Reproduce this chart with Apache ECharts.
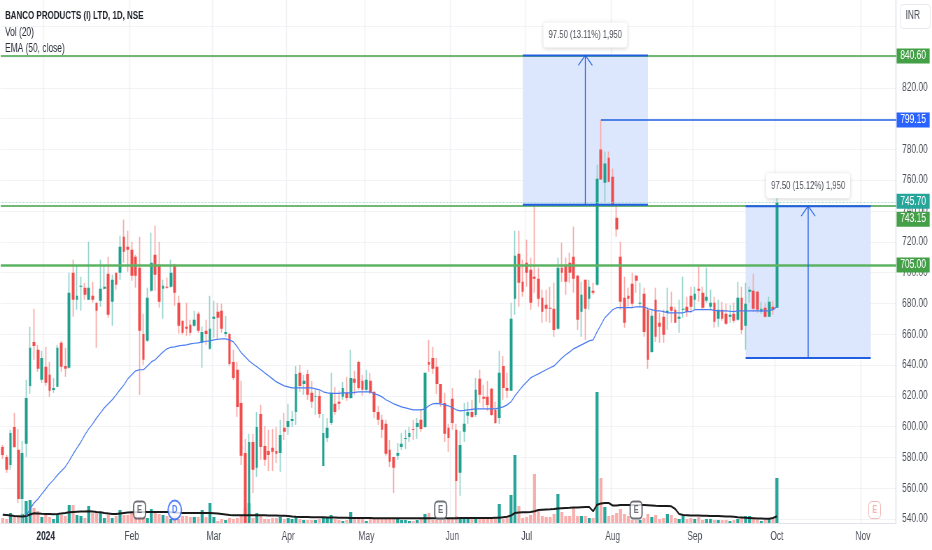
<!DOCTYPE html>
<html><head><meta charset="utf-8">
<style>html,body{margin:0;padding:0;background:#fff;overflow:hidden}#w{width:932px;height:550px;overflow:hidden}#c{width:1332px;height:550px;transform:scaleX(0.6997);transform-origin:0 0}</style>
<script src="https://cdn.jsdelivr.net/npm/echarts@6/dist/echarts.min.js"></script>
</head><body><div id="w"><div id="c"></div></div>
<script>
const opens=[586.8,580.3,575.1,599.8,584.9,553.0,588.8,626.4,655.0,649.9,
630.4,638.8,633.6,623.8,625.8,654.4,639.4,638.2,699.9,682.4,
690.8,690.2,682.4,684.9,680.4,681.7,689.5,699.2,681.0,699.9,
699.9,723.3,716.8,714.9,710.3,703.2,660.2,655.7,688.2,711.6,
705.1,689.5,690.8,690.8,705.1,680.4,668.7,664.8,666.1,665.5,
673.3,654.4,662.2,650.5,670.0,674.6,675.2,660.2,660.2,642.0,
636.9,615.4,582.9,537.4,590.0,573.2,608.2,587.4,584.2,586.2,
584.2,582.9,599.2,599.8,603.7,609.5,634.9,627.7,634.2,621.9,
619.3,619.9,574.4,592.6,602.4,614.8,616.1,619.3,621.9,618.6,
631.0,642.0,629.7,623.9,629.7,622.6,609.5,604.4,601.8,584.9,
580.3,581.0,586.8,592.0,593.3,598.5,599.8,604.4,599.8,642.0,
644.6,638.8,627.7,615.4,599.2,618.0,597.9,570.0,596.6,607.0,
609.5,607.6,631.0,619.3,619.3,624.5,610.9,605.6,639.4,625.1,
623.2,683.0,712.3,694.0,706.4,701.9,697.3,696.0,683.7,679.1,
677.2,676.5,663.5,703.2,705.1,706.4,710.3,698.0,674.6,695.4,
683.0,688.2,692.1,779.9,758.4,774.6,762.3,735.6,710.3,683.7,
684.9,692.8,698.0,679.8,686.3,675.9,648.5,682.4,667.4,671.3,
673.9,677.8,675.9,670.0,675.9,677.8,684.9,682.4,689.5,686.9,
681.7,677.8,680.4,670.0,675.9,673.3,671.3,673.3,669.4,683.7,
665.5,687.6,688.2,687.6,674.6,677.2,671.3,677.8,677.2];
const closes=[581.6,571.9,595.9,586.8,553.0,582.9,618.6,651.2,652.4,637.5,
644.6,628.4,623.2,625.1,651.2,638.8,637.5,686.9,682.4,684.9,
691.4,685.6,690.2,682.4,675.2,689.5,690.8,672.6,695.4,692.1,
716.8,713.5,714.9,697.9,697.9,662.2,643.4,683.7,706.4,698.6,
681.0,691.4,690.2,699.9,686.9,665.5,660.9,663.5,660.9,669.4,
662.2,661.5,660.2,663.5,671.3,670.7,663.5,661.5,640.7,631.6,
612.8,581.0,537.4,590.0,571.9,599.8,586.8,578.4,581.6,583.6,
582.3,594.6,596.6,603.7,605.0,634.2,626.4,629.7,620.6,616.1,
619.9,608.2,595.9,599.2,621.9,609.5,614.8,625.1,618.6,631.6,
628.4,625.1,623.9,630.4,621.9,609.5,604.4,597.9,582.3,577.1,
573.2,582.9,588.8,592.6,595.9,597.9,602.4,598.5,634.9,640.1,
637.5,627.7,615.4,595.3,592.6,602.4,564.7,588.1,601.8,609.5,
606.3,623.9,620.6,618.0,614.1,607.6,602.4,634.9,625.1,623.2,
670.0,711.0,693.4,687.6,699.9,680.4,696.0,683.0,674.6,676.5,
676.5,662.8,703.2,699.9,694.0,699.9,696.0,669.4,685.6,676.5,
690.8,686.9,761.0,760.4,770.8,759.0,744.1,727.9,681.0,667.4,
683.0,679.8,694.7,680.4,661.5,643.4,672.0,658.3,664.8,659.6,
675.2,675.2,667.4,671.3,676.5,674.6,677.8,686.3,688.2,677.2,
684.3,680.4,668.1,675.9,670.0,666.8,672.6,668.7,683.7,662.8,
679.8,688.9,676.5,675.9,676.5,671.3,681.0,675.9,745.7];
const lows=[579.0,569.9,571.9,586.2,550.4,537.4,580.3,621.2,643.4,635.6,
628.4,626.4,619.3,621.9,625.8,635.6,632.3,637.5,671.3,675.9,
675.2,682.4,682.4,680.4,651.2,677.8,688.9,670.7,665.5,688.9,
695.4,706.4,700.5,694.7,690.2,620.6,640.1,655.0,687.6,688.2,
677.2,670.0,689.5,690.2,678.5,660.3,659.6,659.0,659.0,664.8,
660.9,638.2,653.1,649.9,657.6,656.3,660.9,658.3,639.4,630.3,
606.3,575.1,537.4,537.4,556.9,567.3,578.4,574.5,571.2,571.2,
576.4,570.6,591.3,594.6,599.8,601.1,622.6,620.6,617.4,612.2,
607.6,605.6,574.4,590.0,601.1,607.6,610.9,617.4,616.7,618.0,
620.6,623.9,620.0,622.6,621.2,605.6,601.1,592.6,581.0,573.8,
556.9,578.4,584.9,585.5,590.0,591.3,592.0,596.6,599.2,635.6,
634.2,621.2,612.8,590.0,583.6,597.9,537.4,555.0,590.0,601.8,
605.6,606.3,615.4,612.2,610.2,607.0,601.8,601.8,617.4,618.6,
623.2,672.6,677.8,684.3,690.8,675.9,686.9,677.8,667.4,668.1,
667.4,658.3,662.8,694.0,685.6,693.4,686.9,662.8,658.3,656.3,
675.9,685.6,691.4,760.4,746.0,758.4,742.8,723.3,675.9,664.2,
677.8,677.8,686.9,677.8,658.3,637.5,647.9,655.0,654.4,654.4,
662.8,667.4,667.4,660.9,670.7,671.3,673.9,675.9,681.0,675.9,
680.4,675.9,664.2,664.8,668.7,666.1,667.4,667.4,668.7,660.2,
649.9,680.4,674.6,673.9,673.3,670.7,671.3,672.6,677.2];
const highs=[588.1,581.6,597.9,608.9,598.5,590.7,630.4,664.8,676.5,653.1,
649.2,651.8,642.0,631.6,653.1,655.7,651.2,699.9,708.4,704.4,
697.3,693.4,720.0,694.0,680.4,708.4,705.1,710.3,698.6,699.9,
724.0,734.4,727.2,720.0,711.6,723.3,673.3,690.2,725.9,730.5,
720.0,695.4,696.7,708.4,705.7,684.9,668.7,680.4,669.4,675.2,
674.6,664.8,669.4,684.9,681.7,680.4,679.8,671.9,660.9,649.9,
642.0,629.7,592.0,595.3,595.3,609.5,614.1,600.4,597.9,598.5,
599.8,604.4,608.9,614.8,610.2,639.4,640.1,633.6,636.9,629.7,
623.9,623.2,608.2,605.6,634.9,625.8,623.2,629.0,632.3,649.9,
636.2,642.7,633.6,636.9,634.9,622.6,613.5,607.6,604.4,591.4,
580.3,589.4,595.9,597.9,599.8,604.4,605.6,611.5,634.9,656.3,
651.8,644.6,627.7,621.9,601.8,625.1,601.8,597.2,615.4,616.1,
617.4,631.6,636.9,627.1,629.7,625.1,616.1,649.2,645.9,634.9,
680.4,727.2,727.2,708.4,721.4,709.7,744.1,703.2,688.9,688.9,
690.8,693.4,709.7,719.4,709.7,712.9,729.8,698.6,694.0,695.4,
695.4,693.4,770.1,799.15,778.6,778.6,767.5,744.1,720.0,697.3,
690.2,699.9,698.6,693.4,690.2,677.8,675.9,690.2,673.9,675.9,
690.2,687.6,677.8,682.4,697.3,684.3,690.8,690.8,703.8,690.8,
703.2,688.9,684.3,682.4,681.0,679.8,679.1,680.4,694.0,690.8,
693.4,690.8,699.2,688.2,681.0,680.4,684.3,681.7,753.9];
const volumes=[5,4,10,6,6,9,22,23,15,12,
6,8,6,4,8,8,7,18,18,8,
7,5,17,10,10,11,5,8,5,7,
13,8,8,11,9,7,7,5,14,10,
9,8,7,4,7,4,7,7,6,6,
6,13,6,20,6,2,4,3,5,4,
5,7,15,20,5,10,7,4,4,5,
5,6,4,5,4,7,4,3,3,3,
3,4,6,6,8,4,3,2,3,11,
4,4,4,2,4,4,4,4,4,5,
5,4,3,3,2,2,3,5,9,10,
3,3,3,3,4,5,7,4,4,4,
4,4,4,4,4,4,5,19,4,5,
28,68,17,5,6,8,49,12,7,6,
6,9,29,11,7,7,15,7,7,7,
5,5,131,45,16,7,8,10,14,9,
7,3,3,3,5,9,6,8,4,5,
9,8,5,4,7,4,5,4,6,3,
4,4,3,3,3,3,2,3,4,5,
7,7,4,3,2,3,4,4,45];
const volumeAverage=[8.3,8,7.5,7,6.8,6.5,7,8.5,9.8,9.6,
9.2,9,9,8.8,9,9.5,10,10.7,11,11.2,
11.4,11.6,11.7,11.5,11,10.7,10,9.5,9,9,
9.5,10,10.5,10.7,10.8,11,11,11,11,11,
11,11,11,10.8,10.5,10.2,10,10,10,10,
10,10,10,10,9.8,9.5,9,8.5,8,7.7,
7.7,7.7,7.7,7.7,7.7,7.7,7.7,7.7,7.5,7.5,
7.5,7.3,7.3,7,6.5,6.2,6,6,6,5.8,
5.8,5.8,5.7,5.5,5.5,5.4,5.3,5.2,5.2,5,
5,5,5,4.9,4.9,4.8,4.8,4.8,4.8,4.7,
4.7,4.7,4.7,4.7,4.7,4.7,4.7,4.7,4.7,4.7,
4.7,4.7,4.7,4.8,4.8,4.8,4.8,4.9,4.9,4.9,
5,5,5,5,5,5,5.2,5.3,5.8,6.2,
7.5,10,10.5,10.7,10.7,11,11.8,13,13.3,13.5,
13.7,14,14.5,14.8,15,15.2,15.5,15.6,15.8,16,
16,11.7,18.3,19.5,20,20,17.5,17.5,18,18,
18,18,18,18,18,17.8,17.5,17.2,17,17,
17,16.7,14,9,8,7.8,7.6,7.5,7.4,7.3,
7.2,7.1,7,6.9,6.8,6.6,6.4,6.2,5.8,5.5,
5.2,5,4.8,4.5,4.4,4.3,4.3,5,6.7];
const ema50=[null,null,null,null,null,null,541.9,546.5,550.4,553.0,
556.3,559.5,562.8,565.4,568.6,571.2,573.8,577.7,582.2,586.2,
590.0,594.6,598.5,601.8,605.6,608.9,612.2,614.8,617.4,620.6,
623.9,627.1,631.0,633.6,636.2,636.9,636.9,639.4,642.0,643.4,
646.0,648.5,650.5,651.5,651.8,652.4,652.8,653.1,653.7,654.1,
654.4,655.0,655.4,655.7,656.3,656.7,657.0,657.0,656.3,655.0,
651.8,647.9,645.3,642.7,640.7,638.8,636.9,634.9,633.0,631.0,
629.0,627.7,626.4,625.8,625.1,625.1,625.1,625.1,625.1,625.1,
624.5,623.9,622.6,621.9,621.6,621.6,621.6,621.9,621.9,621.9,
622.2,622.6,622.6,622.6,622.6,621.2,620.6,619.3,617.4,616.1,
614.8,613.8,612.8,612.2,611.5,610.9,610.9,610.9,611.5,613.5,
614.8,615.1,614.8,614.1,613.5,612.2,610.9,610.2,610.5,610.9,
611.2,611.5,611.5,611.5,611.5,611.5,611.5,612.2,612.8,614.1,
616.1,620.0,623.2,626.4,629.0,631.6,633.0,634.2,635.6,636.9,
638.2,639.4,642.0,644.6,646.6,648.5,650.5,651.8,653.1,654.4,
655.7,656.3,661.5,666.1,670.7,673.3,675.9,677.2,677.2,677.2,
677.2,677.2,677.8,677.8,677.8,676.5,675.9,675.2,675.2,674.6,
673.9,673.9,673.9,673.9,673.9,674.6,674.6,675.9,675.9,675.9,
675.9,675.9,675.5,675.2,675.2,675.2,674.9,674.6,675.2,675.2,
675.2,675.2,675.2,675.2,675.2,675.2,675.2,675.9,677.8];

const barSlots=229;
const monthIndex=[11,33,54,73,93,115,134,156,177,198,220];
const monthLabels=['2024','Feb','Mar','Apr','May','Jun','Jul','Aug','Sep','Oct','Nov'];
const priceLabels=[540,560,580,600,620,640,660,680,700,720,740,760,780,800,820,840];
const priceGrid=[540,560,580,600,620,640,660,680,700,720,740,760,780,800,820,840,860];
const priceMin=537.4, priceMax=877;

const levelPrices=[840.60,743.15,705.00];
const lastPrice=745.70;
const highPrice=799.15, highFrom=153;
const measureStart=[133,190], measureEnd=[165,222], measureMid=[149,206];
const measureHigh=[841.0,743.15], measureLow=[744.1,644.5];
const measureText=['97.50 (13.11%) 1,950','97.50 (15.12%) 1,950'];
const eventIndex=[35,44,112,162,223];
const eventLabels=['E','D','E','E','E'];
const eventPrice=[545.8,545.8,545.8,545.8,545.8];

const S=932/1332, X=v=>v/S;
const UP='#1fa08e', DOWN='#f24b4b', UPW='#93d3ca', DOWNW='#f9a9a6', UPV='#26a69a', DOWNV='#f9aeac';
const GREEN='#43a047', BLUE='#1f5fe0', TXT='#4a4e57';
const FONT='"Liberation Sans",Arial,sans-serif';

const categories=[];
for(let i=0;i<barSlots;i++){const m=monthIndex.indexOf(i);categories.push(m>=0?monthLabels[m]:'d'+i);}
const ohlc=opens.map((o,i)=>[o,closes[i],lows[i],highs[i]]);
const isUp=i=>closes[i]>=opens[i];
const measureRows=measureStart.map((s,i)=>[s,measureEnd[i],measureMid[i],measureHigh[i],measureLow[i],i]);

function tag(color,text,offsetY){return {show:true,position:'end',distance:0,formatter:text,
 color:'#fff',fontFamily:FONT,fontSize:12,backgroundColor:color,width:X(33),height:15,lineHeight:15,align:'center',
 verticalAlign:'middle',offset:[X(17),offsetY||0]};}

const chart=echarts.init(document.getElementById('c'),null,{renderer:'canvas',width:1332,height:550});
chart.setOption({
 animation:false,
 backgroundColor:'#fff',
 title:[
  {text:'BANCO PRODUCTS (I) LTD, 1D, NSE',left:X(5),top:10,padding:0,textStyle:{fontFamily:FONT,fontSize:11.4,fontWeight:'bold',color:'#1c1f26'}},
  {text:'Vol (20)',left:X(5),top:27,padding:0,textStyle:{fontFamily:FONT,fontSize:12,fontWeight:'normal',color:'#2a2e39'}},
  {text:'EMA (50, close)',left:X(5),top:43,padding:0,textStyle:{fontFamily:FONT,fontSize:12,fontWeight:'normal',color:'#2a2e39'}},
 ],
 graphic:[
  {type:'rect',left:X(900),top:4,z:100,shape:{width:X(30),height:24,r:4},style:{fill:'#fff',stroke:'#e6e8ee',lineWidth:1}},
  {type:'text',left:X(905.5),top:10,z:101,style:{text:'INR',fontFamily:FONT,fontSize:12,fill:'#4a4e57'}},
 ],
 grid:{left:X(0.75),width:X(895.39),top:0,height:523,containLabel:false,outerBoundsMode:'none'},
 xAxis:{type:'category',data:categories,boundaryGap:true,
  axisLine:{show:true,lineStyle:{color:'#e0e3eb',width:1}},axisTick:{show:false},
  axisLabel:{interval:i=>monthIndex.includes(i),margin:8,fontFamily:FONT,fontSize:12,color:TXT,hideOverlap:false,
   formatter:v=>v==='2024'?'{b|2024}':v,rich:{b:{fontWeight:'bold',color:'#2a2e39',fontFamily:FONT,fontSize:12}}},
  splitLine:{show:true,interval:i=>monthIndex.includes(i),lineStyle:{color:'#eff1f5',width:1.4}}},
 yAxis:[
  {type:'value',position:'right',min:priceMin,max:priceMax,scale:true,
   axisLine:{show:true,lineStyle:{color:'#e0e3eb',width:1.4}},
   axisTick:{show:false,customValues:priceGrid},
   axisLabel:{customValues:priceLabels,inside:false,margin:X(6),fontFamily:FONT,fontSize:12,color:TXT,formatter:v=>v.toFixed(2)},
   splitLine:{show:true,customValues:priceGrid,lineStyle:{color:'#f2f3f6',width:1}}},
  {type:'value',min:0,max:523,show:false,splitLine:{show:false}}
 ],
 series:[
  {type:'custom',name:'Measure fill',z:1,coordinateSystem:'cartesian2d',clip:false,silent:true,
   data:measureRows,encode:{x:[0,1],y:[3,4]},
   renderItem:(p,api)=>{
    const a=api.coord([api.value(0),api.value(3)]), b=api.coord([api.value(1),api.value(4)]);
    return {type:'rect',shape:{x:a[0],y:a[1],width:b[0]-a[0],height:b[1]-a[1]},style:{fill:'#dce6fc'}};
   }},
  {type:'bar',name:'Volume',yAxisIndex:1,z:2,barWidth:X(3),silent:true,
   data:volumes,itemStyle:{color:p=>isUp(p.dataIndex)?UPV:DOWNV}},
  {type:'line',name:'Vol MA',yAxisIndex:1,z:5,data:volumeAverage,showSymbol:false,silent:true,
   lineStyle:{color:'#1a1a1a',width:2},smooth:false},
  {type:'candlestick',name:'Wicks',z:3,barWidth:1,silent:true,data:ohlc,
   itemStyle:{color:UPW,color0:DOWNW,borderColor:UPW,borderColor0:DOWNW,borderWidth:X(1.2)}},
  {type:'candlestick',name:'Bodies',z:4,barWidth:X(3),silent:true,data:ohlc,
   itemStyle:{color:UP,color0:DOWN,borderColor:UP,borderColor0:DOWN,borderWidth:0}},
  {type:'line',name:'EMA',z:6,data:ema50,showSymbol:false,silent:true,lineStyle:{color:'#4a7cf2',width:1.2}},
  {type:'line',name:'Levels',z:7,data:[],silent:true,
   markLine:{silent:true,symbol:'none',animation:false,
    data:[
     {yAxis:levelPrices[0],lineStyle:{color:GREEN,width:1.5,type:'solid'},label:tag(GREEN,levelPrices[0].toFixed(2))},
     {yAxis:levelPrices[1],lineStyle:{color:GREEN,width:1.5,type:'solid'},label:tag(GREEN,levelPrices[1].toFixed(2),13)},
     {yAxis:lastPrice,lineStyle:{color:'#a5dcd4',width:1,type:'dotted'},label:tag('#26a69a',lastPrice.toFixed(2),-1)},
     {yAxis:levelPrices[2],lineStyle:{color:'#5cb363',width:2.5,type:'solid'},label:tag(GREEN,levelPrices[2].toFixed(2))},
     [{xAxis:highFrom,yAxis:highPrice,lineStyle:{color:BLUE,width:1.5,type:'solid'},label:tag('#2962ff',highPrice.toFixed(2))},{x:X(896.14),yAxis:highPrice}],
    ]}},
  {type:'custom',name:'Measures',z:8,coordinateSystem:'cartesian2d',clip:false,silent:true,
   data:measureRows,encode:{x:[0,1],y:[3,4]},
   renderItem:(p,api)=>{
    const a=api.coord([api.value(0),api.value(3)]), b=api.coord([api.value(1),api.value(4)]);
    const m=api.coord([api.value(2),api.value(3)]), lo=api.coord([api.value(2),api.value(4)]);
    const ln=(x1,y1,x2,y2,w)=>({type:'line',shape:{x1,y1,x2,y2},style:{stroke:BLUE,lineWidth:w,fill:null}});
    const idx=api.value(5);
    return {type:'group',children:[
     ln(a[0],a[1],b[0],a[1],2), ln(a[0],b[1],b[0],b[1],2),
     ln(m[0],lo[1],m[0],a[1],1.3),
     {type:'polyline',shape:{points:[[m[0]-X(7),a[1]+10],[m[0],a[1]],[m[0]+X(7),a[1]+10]]},style:{stroke:BLUE,lineWidth:1.2,fill:null}},
     {type:'rect',shape:{x:m[0]-X(42),y:a[1]-33,width:X(84),height:25,r:4},style:{fill:'#fff',shadowBlur:5,shadowColor:'rgba(0,0,0,.18)',shadowOffsetY:1}},
     {type:'text',style:{x:m[0],y:a[1]-20.5,text:measureText[idx],align:'center',verticalAlign:'middle',fontFamily:FONT,fontSize:11,fill:'#4a4e57'}}
    ]};
   }},
  {type:'scatter',name:'Events',z:9,silent:true,
   data:eventIndex.map((x,i)=>{
    const c=i===1?'#2962ff':(i===4?'#eda5a5':'#4a4e57');
    return {value:[x,eventPrice[i]],symbol:i===1?'circle':'roundRect',symbolSize:i===1?19:[17,17],
     itemStyle:{color:'#fff',borderColor:c,borderWidth:i===4?1:2},
     label:{show:true,position:'inside',formatter:eventLabels[i],color:c,fontFamily:FONT,fontWeight:'bold',fontSize:i===4?10:11}};
   })},
 ]
});
</script></body></html>
